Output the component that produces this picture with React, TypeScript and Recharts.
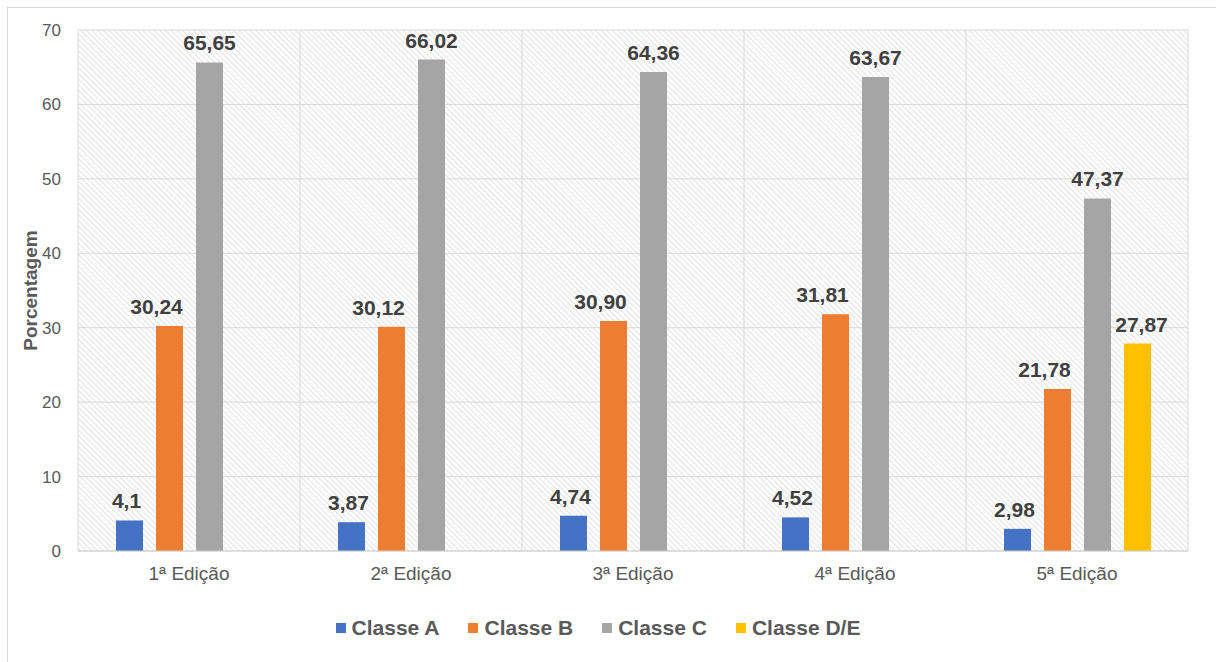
import { BarChart, Bar, XAxis, YAxis, CartesianGrid, Legend, LabelList } from "recharts";

const edicoes = ["1ª Edição", "2ª Edição", "3ª Edição", "4ª Edição", "5ª Edição"];
// values kept as printed on the chart (comma decimals)
const classeA = ["4,1", "3,87", "4,74", "4,52", "2,98"];
const classeB = ["30,24", "30,12", "30,90", "31,81", "21,78"];
const classeC = ["65,65", "66,02", "64,36", "63,67", "47,37"];
const classeDE = [null, null, null, null, "27,87"];
const yTicks = [0, 10, 20, 30, 40, 50, 60, 70];

const FONT = "'Liberation Sans', Arial, sans-serif";

// labelDx: the Excel labels of Classe B sit a little left of their bars
const series = [
  { key: "a", name: "Classe A", color: "#4472C4", vals: classeA, labelDx: -3 },
  { key: "b", name: "Classe B", color: "#ED7D31", vals: classeB, labelDx: -13 },
  { key: "c", name: "Classe C", color: "#A5A5A5", vals: classeC, labelDx: 0 },
  { key: "de", name: "Classe D/E", color: "#FFC000", vals: classeDE, labelDx: 4 },
];

const num = (s: string | null) => (s == null ? null : parseFloat(s.replace(",", ".")));

const data = edicoes.map((ed, i) => {
  const row: any = { ed };
  series.forEach((s) => {
    row[s.key] = num(s.vals[i]);
    row[s.key + "Lbl"] = s.vals[i];
  });
  return row;
});

function LegendBox() {
  return (
    <div style={{ height: 30, display: "flex", justifyContent: "center", alignItems: "center", gap: 29 }}>
      {series.map((s) => (
        <div key={s.key} style={{ display: "flex", alignItems: "center" }}>
          <span style={{ width: 10, height: 10, background: s.color, marginRight: 6, display: "inline-block" }} />
          <span style={{ fontFamily: FONT, fontWeight: 700, fontSize: 21, color: "#595959" }}>{s.name}</span>
        </div>
      ))}
    </div>
  );
}

function YLabel(p: any) {
  const vb = p.viewBox;
  const x = vb.x + 22;
  const y = vb.y + vb.height / 2;
  return (
    <text x={x} y={y} transform={`rotate(-90, ${x}, ${y})`} textAnchor="middle" dominantBaseline="central"
      fontFamily={FONT} fontWeight={700} fontSize={19} fill="#595959">
      Porcentagem
    </text>
  );
}

export default function App() {
  return (
    <div style={{ position: "absolute", left: 0, top: 0, width: 1216, height: 662, background: "#fff" }}>
      <div style={{ position: "absolute", left: 7, top: 7, right: -2, bottom: -2, borderLeft: "1px solid #d9d9d9", borderTop: "1px solid #d9d9d9" }} />
      <BarChart width={1216} height={662} data={data} margin={{ top: 30, right: 28, left: 8, bottom: 19 }}
        barSize={27} barGap={13} style={{ position: "absolute", left: 0, top: 0 }}>
        <defs>
          <pattern id="hatch" width="4" height="4" patternUnits="userSpaceOnUse" patternTransform="rotate(45)">
            <line x1="0" y1="0" x2="4" y2="0" stroke="#cfcfcf" strokeWidth="1.2" />
          </pattern>
        </defs>
        <CartesianGrid stroke="#d9d9d9" fill="url(#hatch)" fillOpacity={1}
          verticalCoordinatesGenerator={({ offset }: any) =>
            edicoes.map((_, i) => offset.left + (i * offset.width) / edicoes.length).concat(offset.left + offset.width)} />
        <XAxis dataKey="ed" height={62} tickLine={false} axisLine={{ stroke: "#d0d0d0" }} tickMargin={10}
          tick={{ fontFamily: FONT, fontSize: 19, fill: "#595959" }} />
        <YAxis width={70} domain={[0, 70]} ticks={yTicks} tickLine={false} axisLine={false} tickMargin={11}
          tick={{ fontFamily: FONT, fontSize: 17, fill: "#595959" }} label={{ content: YLabel }} />
        <Legend verticalAlign="bottom" content={() => <LegendBox />} />
        {series.map((s) => (
          <Bar key={s.key} dataKey={s.key} name={s.name} fill={s.color} isAnimationActive={false}>
            <LabelList dataKey={s.key + "Lbl"} position="top" offset={12} dx={s.labelDx}
              style={{ fontFamily: FONT, fontWeight: 700, fontSize: 21, fill: "#404040" }} />
          </Bar>
        ))}
      </BarChart>
    </div>
  );
}
